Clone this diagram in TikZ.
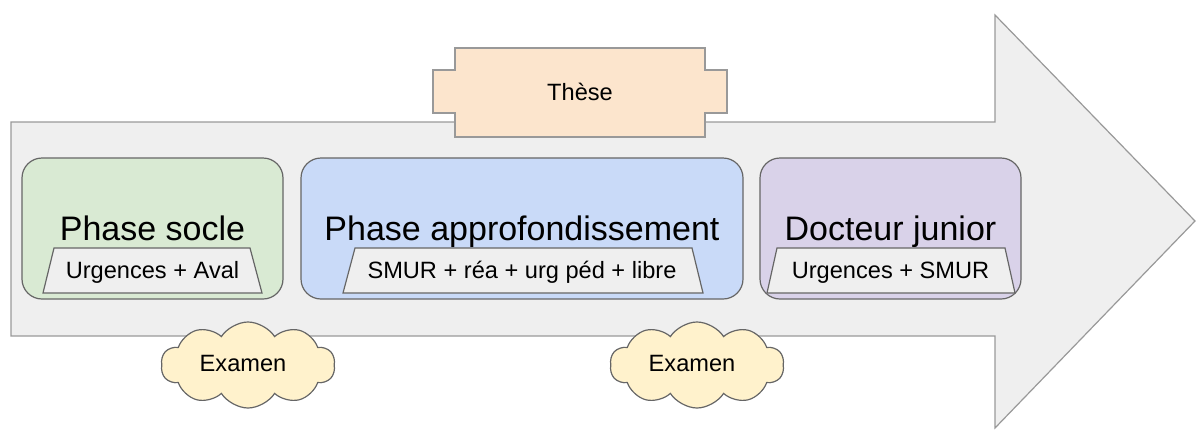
\documentclass[tikz,border=0pt]{standalone}
\usepackage{fontspec}
\setmainfont{Liberation Sans}
\usetikzlibrary{shapes.symbols}
\definecolor{arrowfill}{HTML}{EFEFEF}
\definecolor{arrowline}{HTML}{999999}
\definecolor{boxline}{HTML}{666666}
\definecolor{greenfill}{HTML}{D9EAD3}
\definecolor{bluefill}{HTML}{C9DAF8}
\definecolor{purplefill}{HTML}{D9D2E9}
\definecolor{thesefill}{HTML}{FCE5CD}
\definecolor{examfill}{HTML}{FFF2CC}
\tikzset{
  phasebox/.style={draw=boxline, line width=1.2pt, rounded corners=20pt},
  subbox/.style={draw=boxline, line width=1.2pt, fill=arrowfill},
  titletxt/.style={anchor=base, font=\fontsize{34}{40}\selectfont, inner sep=0pt},
  smalltxt/.style={anchor=base, font=\fontsize{23.6}{27}\selectfont, inner sep=0pt},
  examcloud/.style={cloud, cloud puffs=10, cloud puff arc=115, aspect=2.0, draw=boxline, line width=1.2pt, fill=examfill, minimum width=174pt, minimum height=86pt, inner sep=0pt}
}
\begin{document}
\begin{tikzpicture}[x=1pt, y=-1pt]
\useasboundingbox (0,0) rectangle (1197,437);
% big arrow
\draw[draw=arrowline, line width=1.2pt, fill=arrowfill]
  (11,122) -- (995,122) -- (995,15) -- (1195,221) -- (995,428) -- (995,336) -- (11,336) -- cycle;
% these plaque
\draw[draw=arrowline, line width=1.2pt, fill=thesefill]
  (455,48) -- (705,48) -- (705,70) -- (727,70) -- (727,113) -- (705,113) -- (705,137)
  -- (455,137) -- (455,113) -- (433,113) -- (433,70) -- (455,70) -- cycle;
\node[smalltxt] (these) at (580,100) {Thèse};
% phase boxes
\path[phasebox, fill=greenfill] (22,158) rectangle (283,299);
\path[phasebox, fill=bluefill] (301,158) rectangle (743,299);
\path[phasebox, fill=purplefill] (760,158) rectangle (1021,299);
\node[titletxt] (socleT) at (152.5,240) {Phase socle};
\node[titletxt] (approT) at (522,240) {Phase approfondissement};
\node[titletxt] (juniorT) at (890.5,240) {Docteur junior};
% sub trapezoids
\draw[subbox] (54,248) -- (250,248) -- (262,293) -- (43,293) -- cycle;
\node[smalltxt] (socleS) at (152.5,278) {Urgences + Aval};
\draw[subbox] (355,248) -- (692,248) -- (703,293) -- (343,293) -- cycle;
\node[smalltxt] (approS) at (522,278) {SMUR + réa + urg péd + libre};
\draw[subbox] (777,248) -- (1005,248) -- (1015,293) -- (767,293) -- cycle;
\node[smalltxt] (juniorS) at (890.5,278) {Urgences + SMUR};
% exam clouds
\node[examcloud] (exam1) at (248,365) {};
\node[smalltxt] (exam1T) at (243,371) {Examen};
\node[examcloud] (exam2) at (697,365) {};
\node[smalltxt] (exam2T) at (692,371) {Examen};
\end{tikzpicture}
\end{document}
